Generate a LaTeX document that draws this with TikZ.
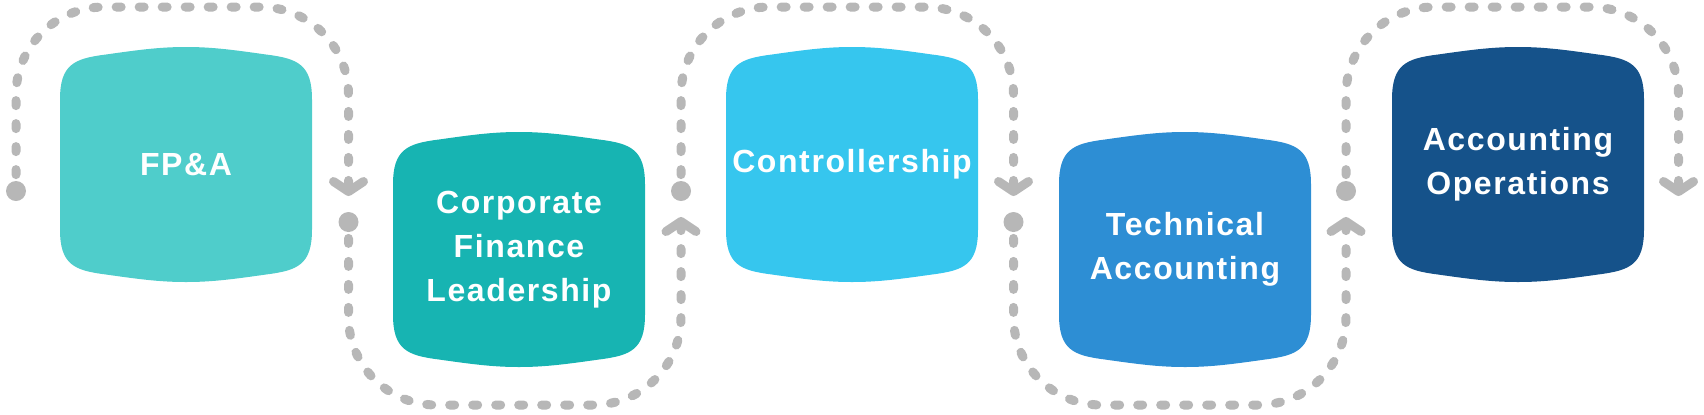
\documentclass[tikz,border=0pt]{standalone}
\usepackage{fontspec}
\setmainfont{Liberation Sans}[LetterSpace=5]
\usepackage{tikz}
\usetikzlibrary{arrows.meta}
\definecolor{fpacol}{HTML}{4FCDCB}
\definecolor{corpcol}{HTML}{17B4B2}
\definecolor{ctrlcol}{HTML}{36C6EE}
\definecolor{techcol}{HTML}{2D8ED4}
\definecolor{opscol}{HTML}{15528A}
\definecolor{flowgrey}{HTML}{B7B7B7}
\tikzset{stepbox/.style={text=white, font=\bfseries\fontsize{16}{22}\selectfont, align=center, inner sep=0pt}}
\tikzset{flowdot/.style={circle, fill=flowgrey, inner sep=0pt, minimum size=10pt}}
\tikzset{flowline/.style={flowgrey, line width=4.5pt, line cap=round, dash pattern=on 2.5pt off 9pt, rounded corners=44pt, shorten <=3pt, -{Straight Barb[length=5pt,width=15pt,round,sep=2pt]}}}

\begin{document}
\begin{tikzpicture}[x=0.5pt, y=-0.5pt]
\useasboundingbox (0,0) rectangle (1704,414);
\foreach \n/\x/\y/\c/\t in {fpa/186/164.5/fpacol/{FP\&A}, corp/519/249.5/corpcol/{Corporate\\Finance\\Leadership}, ctrl/852/164.5/ctrlcol/{Controllership}, tech/1185/249.5/techcol/{Technical\\Accounting}, ops/1518/164.5/opscol/{Accounting\\Operations}} {
\fill[\c, shift={(\x,\y)}] (-126,-65) -- (-126,65) .. controls (-126,100) and (-112,106) .. (-80,110) .. controls (-45,115) and (-25,117.5) .. (0,117.5) .. controls (25,117.5) and (45,115) .. (80,110) .. controls (112,106) and (126,100) .. (126,65) -- (126,-65) .. controls (126,-100) and (112,-106) .. (80,-110) .. controls (45,-115) and (25,-117.5) .. (0,-117.5) .. controls (-25,-117.5) and (-45,-115) .. (-80,-110) .. controls (-112,-106) and (-126,-100) .. (-126,-65) -- cycle;
\node[stepbox] (\n) at (\x,\y) {\t};
}
\foreach \n/\x/\y in {d0/16/191, d1/348.5/222, d2/681/191, d3/1013.5/222, d4/1346/191} \node[flowdot] (\n) at (\x,\y) {};
\foreach \n/\x/\y in {c1/348.5/200, c2/681/213, c3/1013.5/200, c4/1346/213, c5/1678.5/200} \coordinate (\n) at (\x,\y);
\draw[flowline] (d0) -- ++(0,-184) -| (c1);
\draw[flowline] (d1) -- ++(0,183) -| (c2);
\draw[flowline] (d2) -- ++(0,-184) -| (c3);
\draw[flowline] (d3) -- ++(0,183) -| (c4);
\draw[flowline] (d4) -- ++(0,-184) -| (c5);
\end{tikzpicture}
\end{document}
